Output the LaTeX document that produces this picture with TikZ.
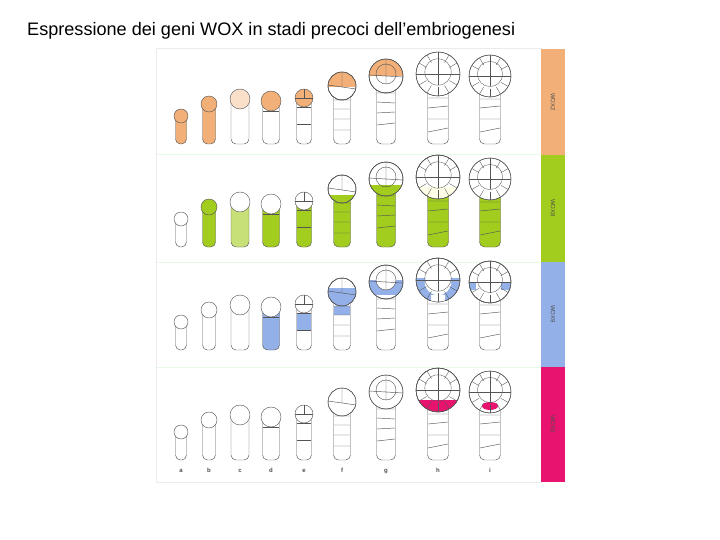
\documentclass[tikz,border=0pt]{standalone}
\usepackage{fontspec}
\setmainfont{Liberation Sans}
\definecolor{wor}{HTML}{F2B078}
\definecolor{wgr}{HTML}{A2CD1E}
\definecolor{wbl}{HTML}{93B0E8}
\definecolor{wmg}{HTML}{E8136E}
\definecolor{ecol}{HTML}{555555}
\tikzset{emb/.style={draw=ecol,line width=0.45pt},sep/.style={draw=black!15!green!10!white,line width=1pt}}
\newcommand\E[7]{\begin{scope}[shift={(#1,#2)}]
\filldraw[emb,fill=#6,rounded corners=5] ({-#5/2},-#4) rectangle ({#5/2},0);
\filldraw[emb,fill=#7] (0,-#4) circle (#3);
\end{scope}}
\newcommand\hband[7]{\begin{scope}[shift={(#1,#2)}]
\begin{scope}\clip (0,-#3) circle (#4);
\fill[#7] (-#4,#5) rectangle (#4,#6);\end{scope}
\draw[emb] (0,-#3) circle (#4);\end{scope}}
\newcommand\dD[2]{\draw[emb] ({#1-8},{#2-33})--({#1+8},{#2-33});}
\newcommand\dE[2]{\begin{scope}[shift={(#1,#2)}]
\draw[emb] (0,-55)--(0,-46) (-9,-46)--(9,-46) (-7,-37)--(7,-37) (-7,-20)--(7,-20);\end{scope}}
\newcommand\dF[2]{\begin{scope}[shift={(#1,#2)}]
\draw[emb] (0,-72)--(0,-57) (-14,-59)--(14,-55) (-8,-44)--(8,-44) (-8,-35)--(8,-35) (-8,-25)--(8,-25) (-8,-14)--(8,-14);
\draw[emb] (0,-58) circle (14);\end{scope}}
\newcommand\dG[2]{\begin{scope}[shift={(#1,#2)}]
\draw[emb] (0,-70) circle (10) (0,-85)--(0,-60) (-17,-69)--(17,-67) (-9,-51)--(9,-51) (-9,-42)--(9,-41) (-9,-31)--(9,-32) (-9,-19)--(9,-21);
\draw[emb] (0,-68) circle (17);\end{scope}}
\newcommand\dH[4]{\begin{scope}[shift={(#1,#2)}]
\draw[emb,line width=0.35pt] (0,{-#3-2}) circle ({#4*0.6});
\foreach \a in {0,30,...,330}{\draw[emb,line width=0.35pt] ($(0,-#3)+(\a:{#4*0.6})$)--($(0,-#3)+(\a:#4)$);}
\draw[emb,line width=0.35pt] (0,{-#3-#4*0.6})--(0,{-#3+#4*0.5}) ({-#4*0.6},-#3)--({#4*0.6},-#3);
\draw[emb] (-10,{-#3+#4+2})--(10,{-#3+#4+2}) (-10,-36)--(10,-38) (-10,-25)--(10,-25) (-10,-12)--(10,-16);
\draw[emb] (0,-#3) circle (#4);\end{scope}}
\usetikzlibrary{calc}
\begin{document}
\begin{tikzpicture}[x=1pt,y=-1pt]
\useasboundingbox (0,0) rectangle (720,540);
\node[anchor=base west,inner sep=0,font=\fontsize{18.1}{20}\selectfont] (title) at (27,36) {Espressione dei geni WOX in stadi precoci dell’embriogenesi};
\draw[black!8] (156,48) rectangle (541,482);
\foreach \y in {155,262,367}{\draw[sep] (157,\y)--(540,\y);}
\fill[wor] (541,49) rectangle (565,155);
\fill[wgr] (541,155) rectangle (565,262);
\fill[wbl] (541,262) rectangle (565,367);
\fill[wmg] (541,367) rectangle (565,482);
\foreach \y/\t in {102/WOX2,208/WOX8,314/WOX9,424/WOX5}{\node[rotate=-90,font=\fontsize{6}{7}\selectfont,text=black!70] (lab\t) at (553,\y) {\t};}
% row 1
\def\yb{144}
\E{181}{\yb}{7}{28}{11}{wor}{wor}
\E{209}{\yb}{8}{40}{13}{wor}{wor}
\E{240}{\yb}{10}{45}{18}{white}{wor!40}
\E{271}{\yb}{10}{43}{17}{white}{wor}\dD{271}{\yb}
\E{304}{\yb}{9}{46}{15}{white}{wor}\dE{304}{\yb}
\E{342}{\yb}{14}{58}{17}{white}{white}\hband{342}{\yb}{58}{14}{-72}{-57}{wor}\dF{342}{\yb}
\E{386}{\yb}{17}{68}{19}{white}{white}\hband{386}{\yb}{68}{17}{-85}{-68}{wor}\dG{386}{\yb}
\E{438}{\yb}{22}{70}{21}{white}{white}\dH{438}{\yb}{70}{22}
\E{490}{\yb}{21}{68}{21}{white}{white}\dH{490}{\yb}{68}{21}
% row 2
\def\yb{247}
\E{181}{\yb}{7}{28}{11}{white}{white}
\E{209}{\yb}{8}{40}{13}{wgr}{wgr}
\E{240}{\yb}{10}{45}{18}{wgr!60}{white}
\E{271}{\yb}{10}{43}{17}{wgr}{white}\dD{271}{\yb}
\E{304}{\yb}{9}{46}{15}{wgr}{white}\dE{304}{\yb}
\E{342}{\yb}{14}{58}{17}{wgr}{white}\hband{342}{\yb}{58}{14}{-52}{-44}{wgr}\dF{342}{\yb}
\E{386}{\yb}{17}{68}{19}{wgr}{white}\hband{386}{\yb}{68}{17}{-62}{-51}{wgr}\dG{386}{\yb}
\E{438}{\yb}{22}{70}{21}{wgr}{white}\hband{438}{\yb}{70}{22}{-60}{-48}{yellow!10}\dH{438}{\yb}{70}{22}
\E{490}{\yb}{21}{68}{21}{wgr}{white}\dH{490}{\yb}{68}{21}
% row 3
\def\yb{350}
\E{181}{\yb}{7}{28}{11}{white}{white}
\E{209}{\yb}{8}{40}{13}{white}{white}
\E{240}{\yb}{10}{45}{18}{white}{white}
\E{271}{\yb}{10}{43}{17}{wbl}{white}\dD{271}{\yb}
\E{304}{\yb}{9}{46}{15}{white}{white}\fill[wbl] (297,313) rectangle (311,330);\dE{304}{\yb}
\E{342}{\yb}{14}{58}{17}{white}{white}\fill[wbl] (334,306) rectangle (350,315);\hband{342}{\yb}{58}{14}{-62}{-44}{wbl}\dF{342}{\yb}
\E{386}{\yb}{17}{68}{19}{white}{white}\hband{386}{\yb}{68}{17}{-70}{-55}{wbl}\fill[white] (386,280) circle (10);\dG{386}{\yb}
\E{438}{\yb}{22}{70}{21}{white}{white}\hband{438}{\yb}{70}{22}{-72}{-50}{wbl}\fill[white] (438,282) circle (13.2);\fill[white] (431,295) rectangle (445,302);\dH{438}{\yb}{70}{22}
\E{490}{\yb}{21}{68}{21}{white}{white}\hband{490}{\yb}{68}{21}{-68}{-60}{wbl}\fill[white] (476,282) rectangle (501,291);\dH{490}{\yb}{68}{21}
% row 4
\def\yb{460}
\E{181}{\yb}{7}{28}{11}{white}{white}
\E{209}{\yb}{8}{40}{13}{white}{white}
\E{240}{\yb}{10}{45}{18}{white}{white}
\E{271}{\yb}{10}{43}{17}{white}{white}\dD{271}{\yb}
\E{304}{\yb}{9}{46}{15}{white}{white}\dE{304}{\yb}
\E{342}{\yb}{14}{58}{17}{white}{white}\dF{342}{\yb}
\E{386}{\yb}{17}{68}{19}{white}{white}\dG{386}{\yb}
\E{438}{\yb}{22}{70}{21}{white}{white}\hband{438}{\yb}{70}{22}{-60}{-48}{wmg}\dH{438}{\yb}{70}{22}
\E{490}{\yb}{21}{68}{21}{white}{white}\fill[wmg] (490,406) ellipse (8 and 4);\dH{490}{\yb}{68}{21}
\foreach \x/\l in {181/a,209/b,240/c,271/d,304/e,342/f,386/g,438/h,490/i}{\node[anchor=base,font=\fontsize{6}{7}\selectfont\bfseries,text=black!70] (l\l) at (\x,472) {\l};}
\end{tikzpicture}
\end{document}
